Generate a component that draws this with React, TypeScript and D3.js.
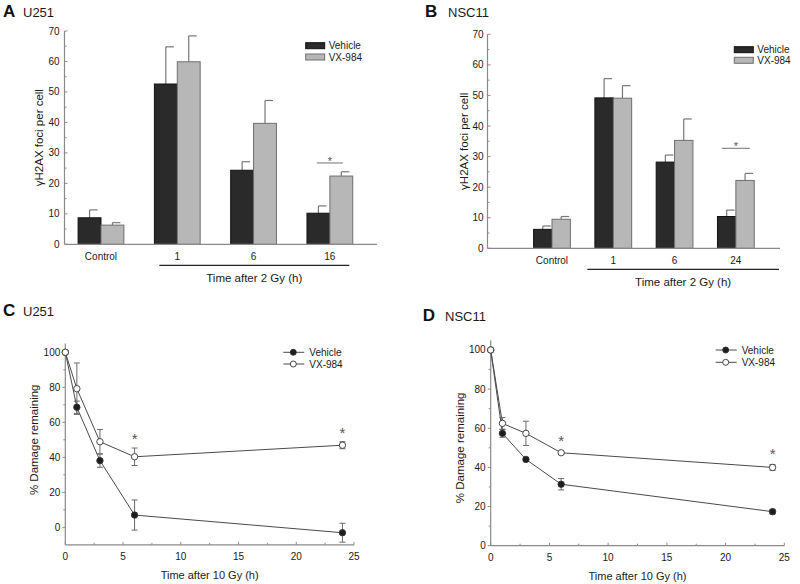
import React from "react";
import * as d3 from "d3";

// ---------- data ----------
const seriesNames = ["Vehicle", "VX-984"];

const aCategories = ["Control", "1", "6", "16"];
const aVehicle = [8.7, 52.6, 24.3, 10.2];
const aVehicleErr = [2.6, 12.2, 2.8, 2.4];
const aVx = [6.3, 59.9, 39.7, 22.4];
const aVxErr = [0.8, 8.5, 7.5, 1.4];

const bCategories = ["Control", "1", "6", "24"];
const bVehicle = [6.2, 49.2, 28.2, 10.4];
const bVehicleErr = [1.1, 6.3, 2.3, 2.1];
const bVx = [9.5, 49.1, 35.3, 22.2];
const bVxErr = [0.9, 4.1, 7.0, 2.3];

const barYTicks = [0, 10, 20, 30, 40, 50, 60, 70];

const lineTimes = [0, 1, 3, 6, 24];
const cVehicle = [100, 68.6, 38.1, 7.0, -3.1];
const cVehicleErr = [0, 3.5, 3.8, 8.6, 5.4];
const cVx = [100, 79.2, 48.9, 40.3, 46.9];
const cVxErr = [0, 14.7, 7.0, 5.0, 2.0];

const dVehicle = [100, 57.4, 44.1, 31.4, 17.4];
const dVehicleErr = [0, 2.0, 1.0, 2.9, 1.2];
const dVx = [100, 62.5, 57.4, 47.5, 40.0];
const dVxErr = [0, 3.0, 6.2, 0.8, 1.5];

const lineXTicks = [0, 5, 10, 15, 20, 25];
const lineYTicks = [0, 20, 40, 60, 80, 100];

const FONT = "'Liberation Sans', Arial, Helvetica, sans-serif";
const AXIS = "#8a8a8a";
const DARK = "#2a2a2a";
const LIGHT = "#b7b7b7";
const TXT = "#1a1a1a";

type BarProps = {
  letter: string;
  title: string;
  lx: number;
  nameX: number;
  titleY: number;
  cats: string[];
  v1: number[];
  e1: number[];
  v2: number[];
  e2: number[];
  axisX: number;
  axisEnd: number;
  y0: number;
  y70: number;
  bandR: [number, number];
  underline: [number, number];
  sigIndex: number;
  sigValue: number;
  sigHalf: number;
  yLabelX: number;
  tickGap: number;
  legendX: number;
  legendY: number;
  legendGap: number;
};

function BarPanel(p: BarProps) {
  const y = d3.scaleLinear().domain([0, 70]).range([p.y0, p.y70]);
  const x = d3.scaleBand<string>().domain(p.cats).range(p.bandR).paddingInner(0.4).paddingOuter(0.2);
  const xs = d3.scaleBand<string>().domain(seriesNames).range([0, x.bandwidth()]);
  const minor = d3.range(5, 70, 10);
  const series = [
    { name: seriesNames[0], vals: p.v1, errs: p.e1, fill: DARK, stroke: "#111" },
    { name: seriesNames[1], vals: p.v2, errs: p.e2, fill: LIGHT, stroke: "#6e6e6e" },
  ];
  const gc = (c: string) => (x(c) as number) + x.bandwidth() / 2;
  const sigC = gc(p.cats[p.sigIndex]);
  return (
    <g fontFamily={FONT}>
      <text x={p.lx} y={p.titleY} fontSize={17} fontWeight="bold" fill="#111">{p.letter}</text>
      <text x={p.nameX} y={p.titleY} fontSize={13} fill={TXT}>{p.title}</text>
      {/* bars */}
      {series.map((s) =>
        p.cats.map((c, i) => {
          const bx = (x(c) as number) + (xs(s.name) as number);
          const w = xs.bandwidth();
          const cx = bx + w / 2;
          return (
            <g key={s.name + c}>
              <line x1={cx} x2={cx} y1={y(s.vals[i])} y2={y(s.vals[i] + s.errs[i])} stroke="#777" strokeWidth={1.2} />
              <line x1={cx} x2={cx + 8} y1={y(s.vals[i] + s.errs[i])} y2={y(s.vals[i] + s.errs[i])} stroke="#777" strokeWidth={1.2} />
              <rect x={bx} y={y(s.vals[i])} width={w} height={y(0) - y(s.vals[i])} fill={s.fill} stroke={s.stroke} strokeWidth={1} />
            </g>
          );
        })
      )}
      {/* axes */}
      <line x1={p.axisX} x2={p.axisX} y1={y(0)} y2={y(70)} stroke={AXIS} strokeWidth={1.2} />
      <line x1={p.axisX} x2={p.axisEnd} y1={y(0)} y2={y(0)} stroke={AXIS} strokeWidth={1.2} />
      {barYTicks.map((t) => (
        <g key={t}>
          <line x1={p.axisX} x2={p.axisX + 3} y1={y(t)} y2={y(t)} stroke={AXIS} />
          <text x={p.axisX - p.tickGap} y={y(t) + 3.5} fontSize={10} textAnchor="end" fill={TXT}>{t}</text>
        </g>
      ))}
      {minor.map((t) => (
        <line key={"m" + t} x1={p.axisX} x2={p.axisX + 2} y1={y(t)} y2={y(t)} stroke={AXIS} />
      ))}
      {p.cats.map((c) => (
        <text key={c} x={gc(c)} y={y(0) + 16} fontSize={10} textAnchor="middle" fill={TXT}>{c}</text>
      ))}
      <line x1={p.underline[0]} x2={p.underline[1]} y1={y(0) + 21} y2={y(0) + 21} stroke="#222" strokeWidth={1.3} />
      <text x={(p.underline[0] + p.underline[1]) / 2} y={y(0) + 38} fontSize={11.5} textAnchor="middle" fill={TXT}>Time after 2 Gy (h)</text>
      <text transform={`translate(${p.yLabelX},${(y(0) + y(70)) / 2}) rotate(-90)`} fontSize={11.5} textAnchor="middle" fill={TXT}>γH2AX foci per cell</text>
      {/* significance */}
      <line x1={sigC - p.sigHalf} x2={sigC + p.sigHalf} y1={y(p.sigValue)} y2={y(p.sigValue)} stroke="#888" strokeWidth={1.2} />
      <text x={sigC} y={y(p.sigValue) + 2} fontSize={11} textAnchor="middle" fill="#555">*</text>
      {/* legend */}
      {series.map((s, i) => (
        <g key={"lg" + s.name}>
          <rect x={p.legendX} y={p.legendY + i * p.legendGap} width={19} height={6} fill={s.fill} stroke={s.stroke} />
          <text x={p.legendX + 23} y={p.legendY + i * p.legendGap + 6.5} fontSize={10} fill={TXT}>{s.name}</text>
        </g>
      ))}
    </g>
  );
}

type LineProps = {
  letter: string;
  title: string;
  lx: number;
  nameX: number;
  titleY: number;
  yDomain: [number, number];
  xRange: [number, number];
  yRange: [number, number];
  v1: number[];
  e1: number[];
  v2: number[];
  e2: number[];
  sig: { t: number; v: number }[];
  yLabelX: number;
  legendX: number;
  legendY: number;
  legendGap: number;
};

function LinePanel(p: LineProps) {
  const x = d3.scaleLinear().domain([0, 25]).range(p.xRange);
  const y = d3.scaleLinear().domain(p.yDomain).range(p.yRange);
  const yb = y(p.yDomain[0]);
  const line = d3
    .line<number>()
    .x((_, i) => x(lineTimes[i]))
    .y((d) => y(d));
  const series = [
    { name: seriesNames[0], vals: p.v1, errs: p.e1, fill: "#1e1e1e" },
    { name: seriesNames[1], vals: p.v2, errs: p.e2, fill: "#fff" },
  ];
  const xMinor = d3.range(2.5, 25, 5);
  const yMinor = d3.range(10, 100, 20).filter((t) => t >= p.yDomain[0]);
  return (
    <g fontFamily={FONT}>
      <text x={p.lx} y={p.titleY} fontSize={17} fontWeight="bold" fill="#111">{p.letter}</text>
      <text x={p.nameX} y={p.titleY} fontSize={13} fill={TXT}>{p.title}</text>
      {/* axes */}
      <line x1={x(0)} x2={x(0)} y1={yb} y2={y(p.yDomain[1])} stroke={AXIS} strokeWidth={1.2} />
      <line x1={x(0)} x2={x(25)} y1={yb} y2={yb} stroke={AXIS} strokeWidth={1.2} />
      {lineYTicks.map((t) => (
        <g key={t}>
          <line x1={x(0) - 3} x2={x(0)} y1={y(t)} y2={y(t)} stroke={AXIS} />
          <text x={x(0) - 5} y={y(t) + 3.5} fontSize={10} textAnchor="end" fill={TXT}>{t}</text>
        </g>
      ))}
      {yMinor.map((t) => (
        <line key={"ym" + t} x1={x(0) - 2} x2={x(0)} y1={y(t)} y2={y(t)} stroke={AXIS} />
      ))}
      {lineXTicks.map((t) => (
        <g key={"x" + t}>
          <line x1={x(t)} x2={x(t)} y1={yb} y2={yb - 3} stroke={AXIS} />
          <text x={x(t)} y={yb + 15} fontSize={10} textAnchor="middle" fill={TXT}>{t}</text>
        </g>
      ))}
      {xMinor.map((t) => (
        <line key={"xm" + t} x1={x(t)} x2={x(t)} y1={yb} y2={yb - 2} stroke={AXIS} />
      ))}
      <text x={(x(0) + x(25)) / 2} y={yb + 34} fontSize={11} textAnchor="middle" fill={TXT}>Time after 10 Gy (h)</text>
      <text transform={`translate(${p.yLabelX},${(y(0) + y(100)) / 2}) rotate(-90)`} fontSize={11.5} textAnchor="middle" fill={TXT}>% Damage remaining</text>
      {/* lines */}
      {series.map((s) => (
        <path key={"l" + s.name} d={line(s.vals) || ""} fill="none" stroke="#4a4a4a" strokeWidth={1} />
      ))}
      {series.map((s) =>
        s.vals.map((v, i) =>
          s.errs[i] > 0 ? (
            <g key={"e" + s.name + i} stroke="#6a6a6a" strokeWidth={1}>
              <line x1={x(lineTimes[i])} x2={x(lineTimes[i])} y1={y(v - s.errs[i])} y2={y(v + s.errs[i])} />
              <line x1={x(lineTimes[i]) - 3} x2={x(lineTimes[i]) + 3} y1={y(v - s.errs[i])} y2={y(v - s.errs[i])} />
              <line x1={x(lineTimes[i]) - 3} x2={x(lineTimes[i]) + 3} y1={y(v + s.errs[i])} y2={y(v + s.errs[i])} />
            </g>
          ) : null
        )
      )}
      {series.map((s) =>
        s.vals.map((v, i) => (
          <circle key={"c" + s.name + i} cx={x(lineTimes[i])} cy={y(v)} r={3.2} fill={s.fill} stroke="#333" strokeWidth={0.9} />
        ))
      )}
      {p.sig.map((s, i) => (
        <text key={"s" + i} x={x(s.t)} y={y(s.v) + 8} fontSize={15} textAnchor="middle" fill="#555">*</text>
      ))}
      {/* legend */}
      {series.map((s, i) => (
        <g key={"lg" + s.name}>
          <line x1={p.legendX} x2={p.legendX + 21} y1={p.legendY + i * p.legendGap} y2={p.legendY + i * p.legendGap} stroke="#4a4a4a" />
          <circle cx={p.legendX + 10} cy={p.legendY + i * p.legendGap} r={3} fill={s.fill} stroke="#333" strokeWidth={0.9} />
          <text x={p.legendX + 26} y={p.legendY + i * p.legendGap + 3.6} fontSize={10} fill={TXT}>{s.name}</text>
        </g>
      ))}
    </g>
  );
}

export default function App() {
  return (
    <svg
      width={800}
      height={584}
      viewBox="0 0 800 584"
      style={{ position: "absolute", left: 0, top: 0, display: "block", background: "#fff" }}
    >
      <rect width={800} height={584} fill="#fff" />
      <BarPanel
        letter="A" title="U251" lx={3} nameX={23} titleY={17}
        cats={aCategories} v1={aVehicle} e1={aVehicleErr} v2={aVx} e2={aVxErr}
        axisX={64.5} axisEnd={377} y0={244.3} y70={31}
        bandR={[62.85, 368]} underline={[159.3, 349.3]}
        sigIndex={3} sigValue={26.7} sigHalf={13}
        yLabelX={43} tickGap={5} legendX={305.7} legendY={42.7} legendGap={11.3}
      />
      <BarPanel
        letter="B" title="NSC11" lx={425} nameX={448} titleY={17}
        cats={bCategories} v1={bVehicle} e1={bVehicleErr} v2={bVx} e2={bVxErr}
        axisX={487.5} axisEnd={780} y0={248.3} y70={34.3}
        bandR={[521.35, 766.5]} underline={[587.3, 779]}
        sigIndex={3} sigValue={32.7} sigHalf={14}
        yLabelX={468} tickGap={4} legendX={734.3} legendY={46.7} legendGap={10.6}
      />
      <LinePanel
        letter="C" title="U251" lx={3} nameX={23} titleY={316}
        yDomain={[-10, 105]} xRange={[65.3, 354]} yRange={[544.8, 343.55]}
        v1={cVehicle} e1={cVehicleErr} v2={cVx} e2={cVxErr}
        sig={[{ t: 6, v: 52.3 }, { t: 24, v: 55.8 }]}
        yLabelX={37.5} legendX={283.3} legendY={352.3} legendGap={11.7}
      />
      <LinePanel
        letter="D" title="NSC11" lx={422.7} nameX={445} titleY={321}
        yDomain={[0, 105]} xRange={[490.7, 784.3]} yRange={[545.7, 340.2]}
        v1={dVehicle} e1={dVehicleErr} v2={dVx} e2={dVxErr}
        sig={[{ t: 6, v: 55.2 }, { t: 24, v: 48.4 }]}
        yLabelX={464} legendX={715.7} legendY={350} legendGap={12.3}
      />
    </svg>
  );
}
